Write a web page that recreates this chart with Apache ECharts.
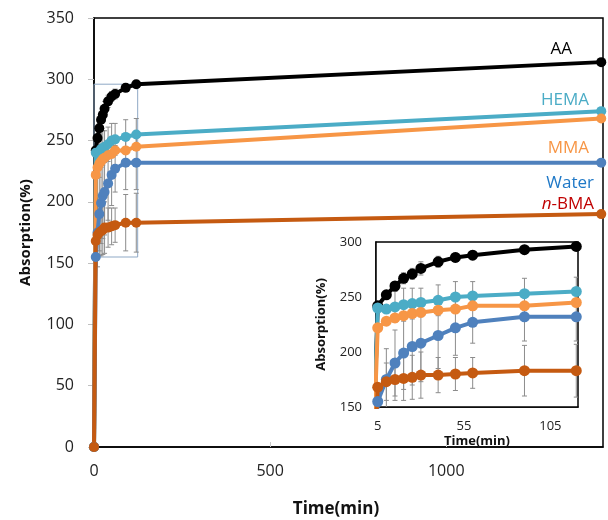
<!DOCTYPE html>
<html>
<head>
<meta charset="utf-8">
<script src="https://cdn.jsdelivr.net/npm/echarts@6/dist/echarts.min.js"></script>
<style>
html, body { margin: 0; padding: 0; background: #fff; }
#chart { width: 608px; height: 520px; }
</style>
</head>
<body>
<div id="chart"></div>
<script>
var myChart = echarts.init(document.getElementById('chart'));

// 数据 (时间 min / 吸收率 %)
var times = [0, 5, 10, 15, 20, 25, 30, 40, 50, 60, 90, 120, 1440];
var names = ['AA', 'HEMA', 'MMA', 'Water', 'n-BMA'];
var aa    = [0, 242, 252, 260, 267, 271, 276, 282, 286, 288, 293, 296, 314];
var hema  = [0, 240, 239, 241, 243, 244, 245, 247, 250, 251, 253, 255, 274];
var mma   = [0, 222, 228, 231, 233, 235, 236, 238, 239, 242, 242, 245, 268];
var water = [0, 155, 175, 190, 199, 205, 208, 215, 222, 227, 232, 232, 232];
var bma   = [0, 168, 173, 175, 176, 177, 179, 179, 180, 181, 183, 183, 190];

// 误差 (±)
var aaErr    = [0, 0, 3, 4, 5, 5, 6, 5, 4, 4, 3, 3, 0];
var hemaErr  = [0, 0, 0, 14, 15, 14, 13, 14, 14, 13, 14, 13, 0];
var waterErr = [0, 0, 28, 30, 33, 35, 35, 30, 25, 19, 22, 22, 0];
var bmaErr   = [0, 0, 17, 19, 20, 20, 21, 16, 15, 14, 23, 24, 0];

// 坐标轴刻度
var mainXTicks = [0, 500, 1000];
var insetXTicks = [5, 55, 105];
// 放大区域框
var zoomBox = [[0, 155], [124, 296]];

var colors = ['#000000', '#4bacc6', '#f79646', '#4f81bd', '#c55a11'];
var values = [aa, hema, mma, water, bma];
var errs = [aaErr, hemaErr, null, waterErr, bmaErr];
var font = 'Open Sans';

function pairs(arr) {
	return times.map(function (t, i) { return [t, arr[i]]; });
}

var errData = [];
values.forEach(function (arr, k) {
	if (!errs[k]) return;
	for (var i = 0; i < times.length; i++) {
		if (errs[k][i] > 0) errData.push([times[i], arr[i] - errs[k][i], arr[i] + errs[k][i]]);
	}
});

function renderErr(params, api) {
	var top = api.coord([api.value(0), api.value(2)]);
	var bot = api.coord([api.value(0), api.value(1)]);
	var w = params.seriesIndex > 6 ? 3 : 2.5;
	var st = { stroke: '#8c8c8c', lineWidth: 1 };
	return {
		type: 'group',
		children: [
			{ type: 'line', shape: { x1: top[0], y1: top[1], x2: bot[0], y2: bot[1] }, style: st },
			{ type: 'line', shape: { x1: top[0] - w, y1: top[1], x2: top[0] + w, y2: top[1] }, style: st },
			{ type: 'line', shape: { x1: bot[0] - w, y1: bot[1], x2: bot[0] + w, y2: bot[1] }, style: st }
		]
	};
}

function plain(v) { return String(v); }

var series = [];
// 主图
series.push({
	type: 'custom', xAxisIndex: 0, yAxisIndex: 0, clip: true, z: 1,
	renderItem: renderErr, data: errData, silent: true
});
names.forEach(function (n, k) {
	var s = {
		name: n, type: 'line', xAxisIndex: 0, yAxisIndex: 0, z: 2,
		data: pairs(values[k]), symbol: 'circle', symbolSize: 10,
		lineStyle: { color: colors[k], width: 4 },
		itemStyle: { color: colors[k] }
	};
	if (k === 0) {
		s.markArea = {
			silent: true,
			itemStyle: { color: 'rgba(0,0,0,0)', borderColor: '#8fa9c6', borderWidth: 1 },
			data: [[{ coord: zoomBox[0] }, { coord: zoomBox[1] }]]
		};
	}
	series.push(s);
});
// 小图
series.push({
	type: 'custom', xAxisIndex: 1, yAxisIndex: 1, clip: true, z: 3,
	renderItem: renderErr, data: errData, silent: true
});
names.forEach(function (n, k) {
	series.push({
		name: n + ' ', type: 'line', xAxisIndex: 1, yAxisIndex: 1, z: 4,
		data: pairs(values[k]), symbol: 'circle', symbolSize: 11,
		lineStyle: { color: colors[k], width: 4 },
		itemStyle: { color: colors[k] }
	});
});

myChart.setOption(option = {
	animation: false,
	textStyle: { fontFamily: font },
	grid: [
		{ left: 94, top: 18, right: 5, bottom: 73, show: true, borderColor: '#000', borderWidth: 1.5, outerBoundsMode: 'none' },
		{ left: 376, top: 242, width: 202, height: 165, show: true, borderColor: '#000', borderWidth: 1.5, backgroundColor: '#fff', z: 3, outerBoundsMode: 'none' }
	],
	xAxis: [
		{
			gridIndex: 0, type: 'value', min: 0, max: 1445,
			name: 'Time(min)', nameLocation: 'middle', nameGap: 54,
			nameTextStyle: { fontSize: 17, fontWeight: 'bold', color: '#111', padding: [0, 25, 0, 0] },
			axisLine: { lineStyle: { color: '#000', width: 1.5 } },
			axisTick: { inside: true, length: 5, customValues: mainXTicks, lineStyle: { color: '#c8c8c8' } },
			axisLabel: { customValues: mainXTicks, formatter: plain, fontSize: 16, color: '#222', margin: 16 },
			splitLine: { show: false }
		},
		{
			gridIndex: 1, type: 'value', min: 4, max: 121,
			name: 'Time(min)', nameLocation: 'middle', nameGap: 28,
			nameTextStyle: { fontSize: 13, fontWeight: 'bold', color: '#111' },
			axisLine: { lineStyle: { color: '#000', width: 1.5 } },
			axisTick: { inside: true, length: 4, customValues: insetXTicks, lineStyle: { color: '#c8c8c8' } },
			axisLabel: { customValues: insetXTicks, formatter: plain, fontSize: 13, color: '#222', margin: 13 },
			splitLine: { show: false }
		}
	],
	yAxis: [
		{
			gridIndex: 0, type: 'value', min: 0, max: 350, interval: 50,
			name: 'Absorption(%)', nameLocation: 'middle', nameGap: 61,
			nameTextStyle: { fontSize: 15, fontWeight: 'bold', color: '#111' },
			axisLine: { show: true, lineStyle: { color: '#000', width: 1.5 } },
			axisTick: { show: true, length: 6, lineStyle: { color: '#c0c0c0' } },
			axisLabel: { fontSize: 16, color: '#222', margin: 20 },
			splitLine: { show: false }
		},
		{
			gridIndex: 1, type: 'value', min: 150, max: 300, interval: 50,
			name: 'Absorption(%)', nameLocation: 'middle', nameGap: 48,
			nameTextStyle: { fontSize: 13, fontWeight: 'bold', color: '#111' },
			axisLine: { show: true, lineStyle: { color: '#000', width: 1.5 } },
			axisTick: { inside: true, length: 4, lineStyle: { color: '#c8c8c8' } },
			axisLabel: { fontSize: 13, color: '#222', margin: 14 },
			splitLine: { show: false }
		}
	],
	graphic: [
		{ type: 'text', right: 36, top: 41, style: { text: 'AA', fill: '#000', font: '17px "Open Sans"' } },
		{ type: 'text', right: 19, top: 92, style: { text: 'HEMA', fill: '#4bacc6', font: '17px "Open Sans"' } },
		{ type: 'text', right: 19, top: 140, style: { text: 'MMA', fill: '#f79646', font: '17px "Open Sans"' } },
		{ type: 'text', right: 14, top: 175, style: { text: 'Water', fill: '#2079c7', font: '17px "Open Sans"' } },
		{
			type: 'text', right: 14, top: 196,
			style: {
				text: '{i|n}-BMA', fill: '#c00000', font: '17px "Open Sans"',
				rich: { i: { fontStyle: 'italic', fill: '#c00000', fontSize: 17, fontFamily: font } }
			}
		}
	],
	series: series
});
</script>
</body>
</html>
